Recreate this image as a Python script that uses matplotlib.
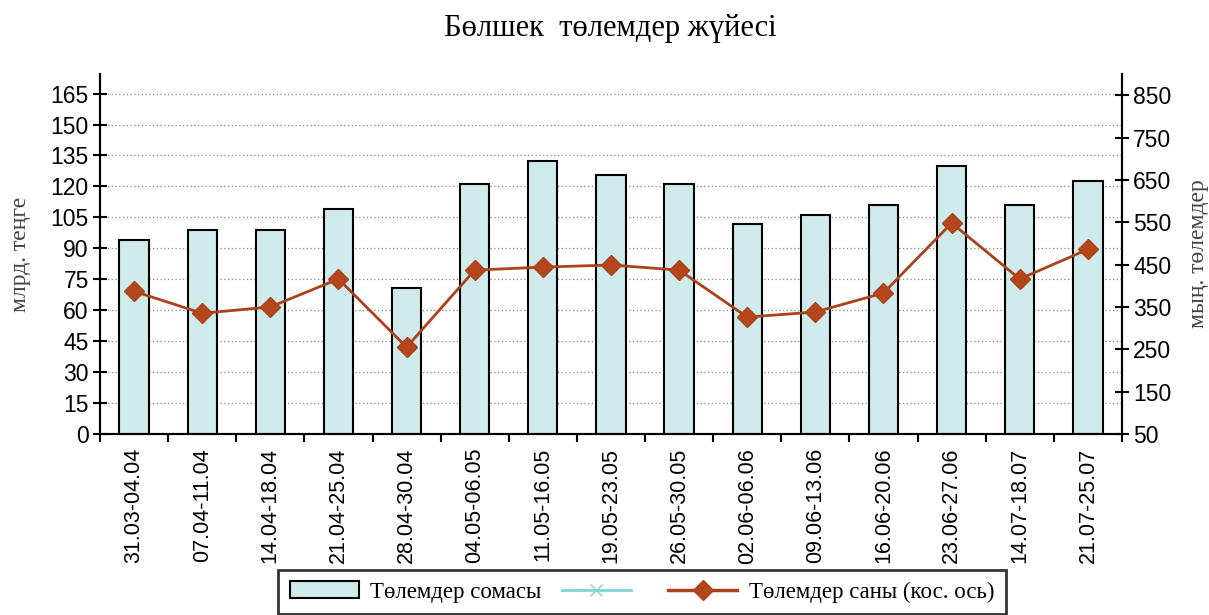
import numpy as np
import matplotlib.pyplot as plt
from matplotlib.lines import Line2D
from matplotlib.patches import Patch

# Данные
periods = ["31.03-04.04", "07.04-11.04", "14.04-18.04", "21.04-25.04", "28.04-30.04",
           "04.05-06.05", "11.05-16.05", "19.05-23.05", "26.05-30.05", "02.06-06.06",
           "09.06-13.06", "16.06-20.06", "23.06-27.06", "14.07-18.07", "21.07-25.07"]
summa = [94, 99, 99, 109, 71, 121, 132.5, 125.5, 121, 102, 106, 111, 130, 111, 122.5]
sany = [387, 335, 350, 416, 255, 437, 444, 449, 437, 326, 338, 383, 548, 416, 486]

x = np.arange(len(periods))
serif = "Liberation Serif"
sans = "Liberation Sans"

fig = plt.figure(figsize=(12.09, 6.15), dpi=100)
ax = fig.add_axes([0.0827, 0.2943, 0.8453, 0.5854])
ax2 = ax.twinx()

ax.bar(x, summa, width=0.43, color="#cfeaea", edgecolor="black", linewidth=1.5, zorder=3)
ax2.plot(x, sany, color="#a8431c", linewidth=2, marker="D", markersize=10,
         markerfacecolor="#b5461c", markeredgecolor="#a8431c", zorder=4)

ax.set_xlim(-0.5, len(periods) - 0.5)
ax.set_ylim(0, 174.5)
ax.set_yticks(np.arange(0, 166, 15))
ax2.set_ylim(50, 900)
ax2.set_yticks(np.arange(50, 851, 100))

ax.yaxis.grid(True, linestyle=(0, (1, 2)), color="#888888", linewidth=0.9)
ax.set_axisbelow(True)

ax.set_xticks(x)
ax.set_xticklabels(periods, rotation=90, fontsize=15.5, family=sans)
ax.tick_params(axis="x", which="major", length=0, pad=10)
ax.set_xticks(np.arange(-0.5, len(periods), 1), minor=True)
ax.tick_params(axis="x", which="minor", length=6, width=1.5, direction="out")

for a in (ax, ax2):
    a.spines["top"].set_visible(False)
    for s in a.spines.values():
        s.set_linewidth(1.5)
ax.tick_params(axis="y", direction="inout", length=10, width=1.5, labelsize=16.5, pad=3)
ax2.tick_params(axis="y", direction="inout", length=10, width=1.5, labelsize=16.5, pad=3)
for lab in ax.get_yticklabels() + ax2.get_yticklabels():
    lab.set_family(sans)

ax.set_ylabel("млрд. теңге", family=serif, fontsize=17, color="#444444", labelpad=14)
ax2.set_ylabel("мың. төлемдер", family=serif, fontsize=17, color="#444444", labelpad=12)

fig.text(0.505, 0.953, "Бөлшек  төлемдер жүйесі", ha="center", va="center",
         family=serif, fontsize=22)

handles = [
    Patch(facecolor="#cfeaea", edgecolor="black", linewidth=1.5),
    Line2D([], [], color="#7fd3d3", marker="x", markersize=9, linewidth=2),
    Line2D([], [], color="#a8431c", marker="D", markersize=10,
           markerfacecolor="#b5461c", linewidth=2.5),
]
labels = ["Төлемдер сомасы", " ", "Төлемдер саны (кос. ось)"]
leg = fig.legend(handles, labels, loc="upper center", bbox_to_anchor=(0.531, 0.092),
                 ncol=3, frameon=True, fancybox=False, edgecolor="black",
                 prop={"family": serif, "size": 16.5}, handlelength=3.0,
                 columnspacing=0.9, borderpad=0.5, handletextpad=0.5)
leg.get_frame().set_linewidth(2)

fig.savefig("out.png", dpi=100)
